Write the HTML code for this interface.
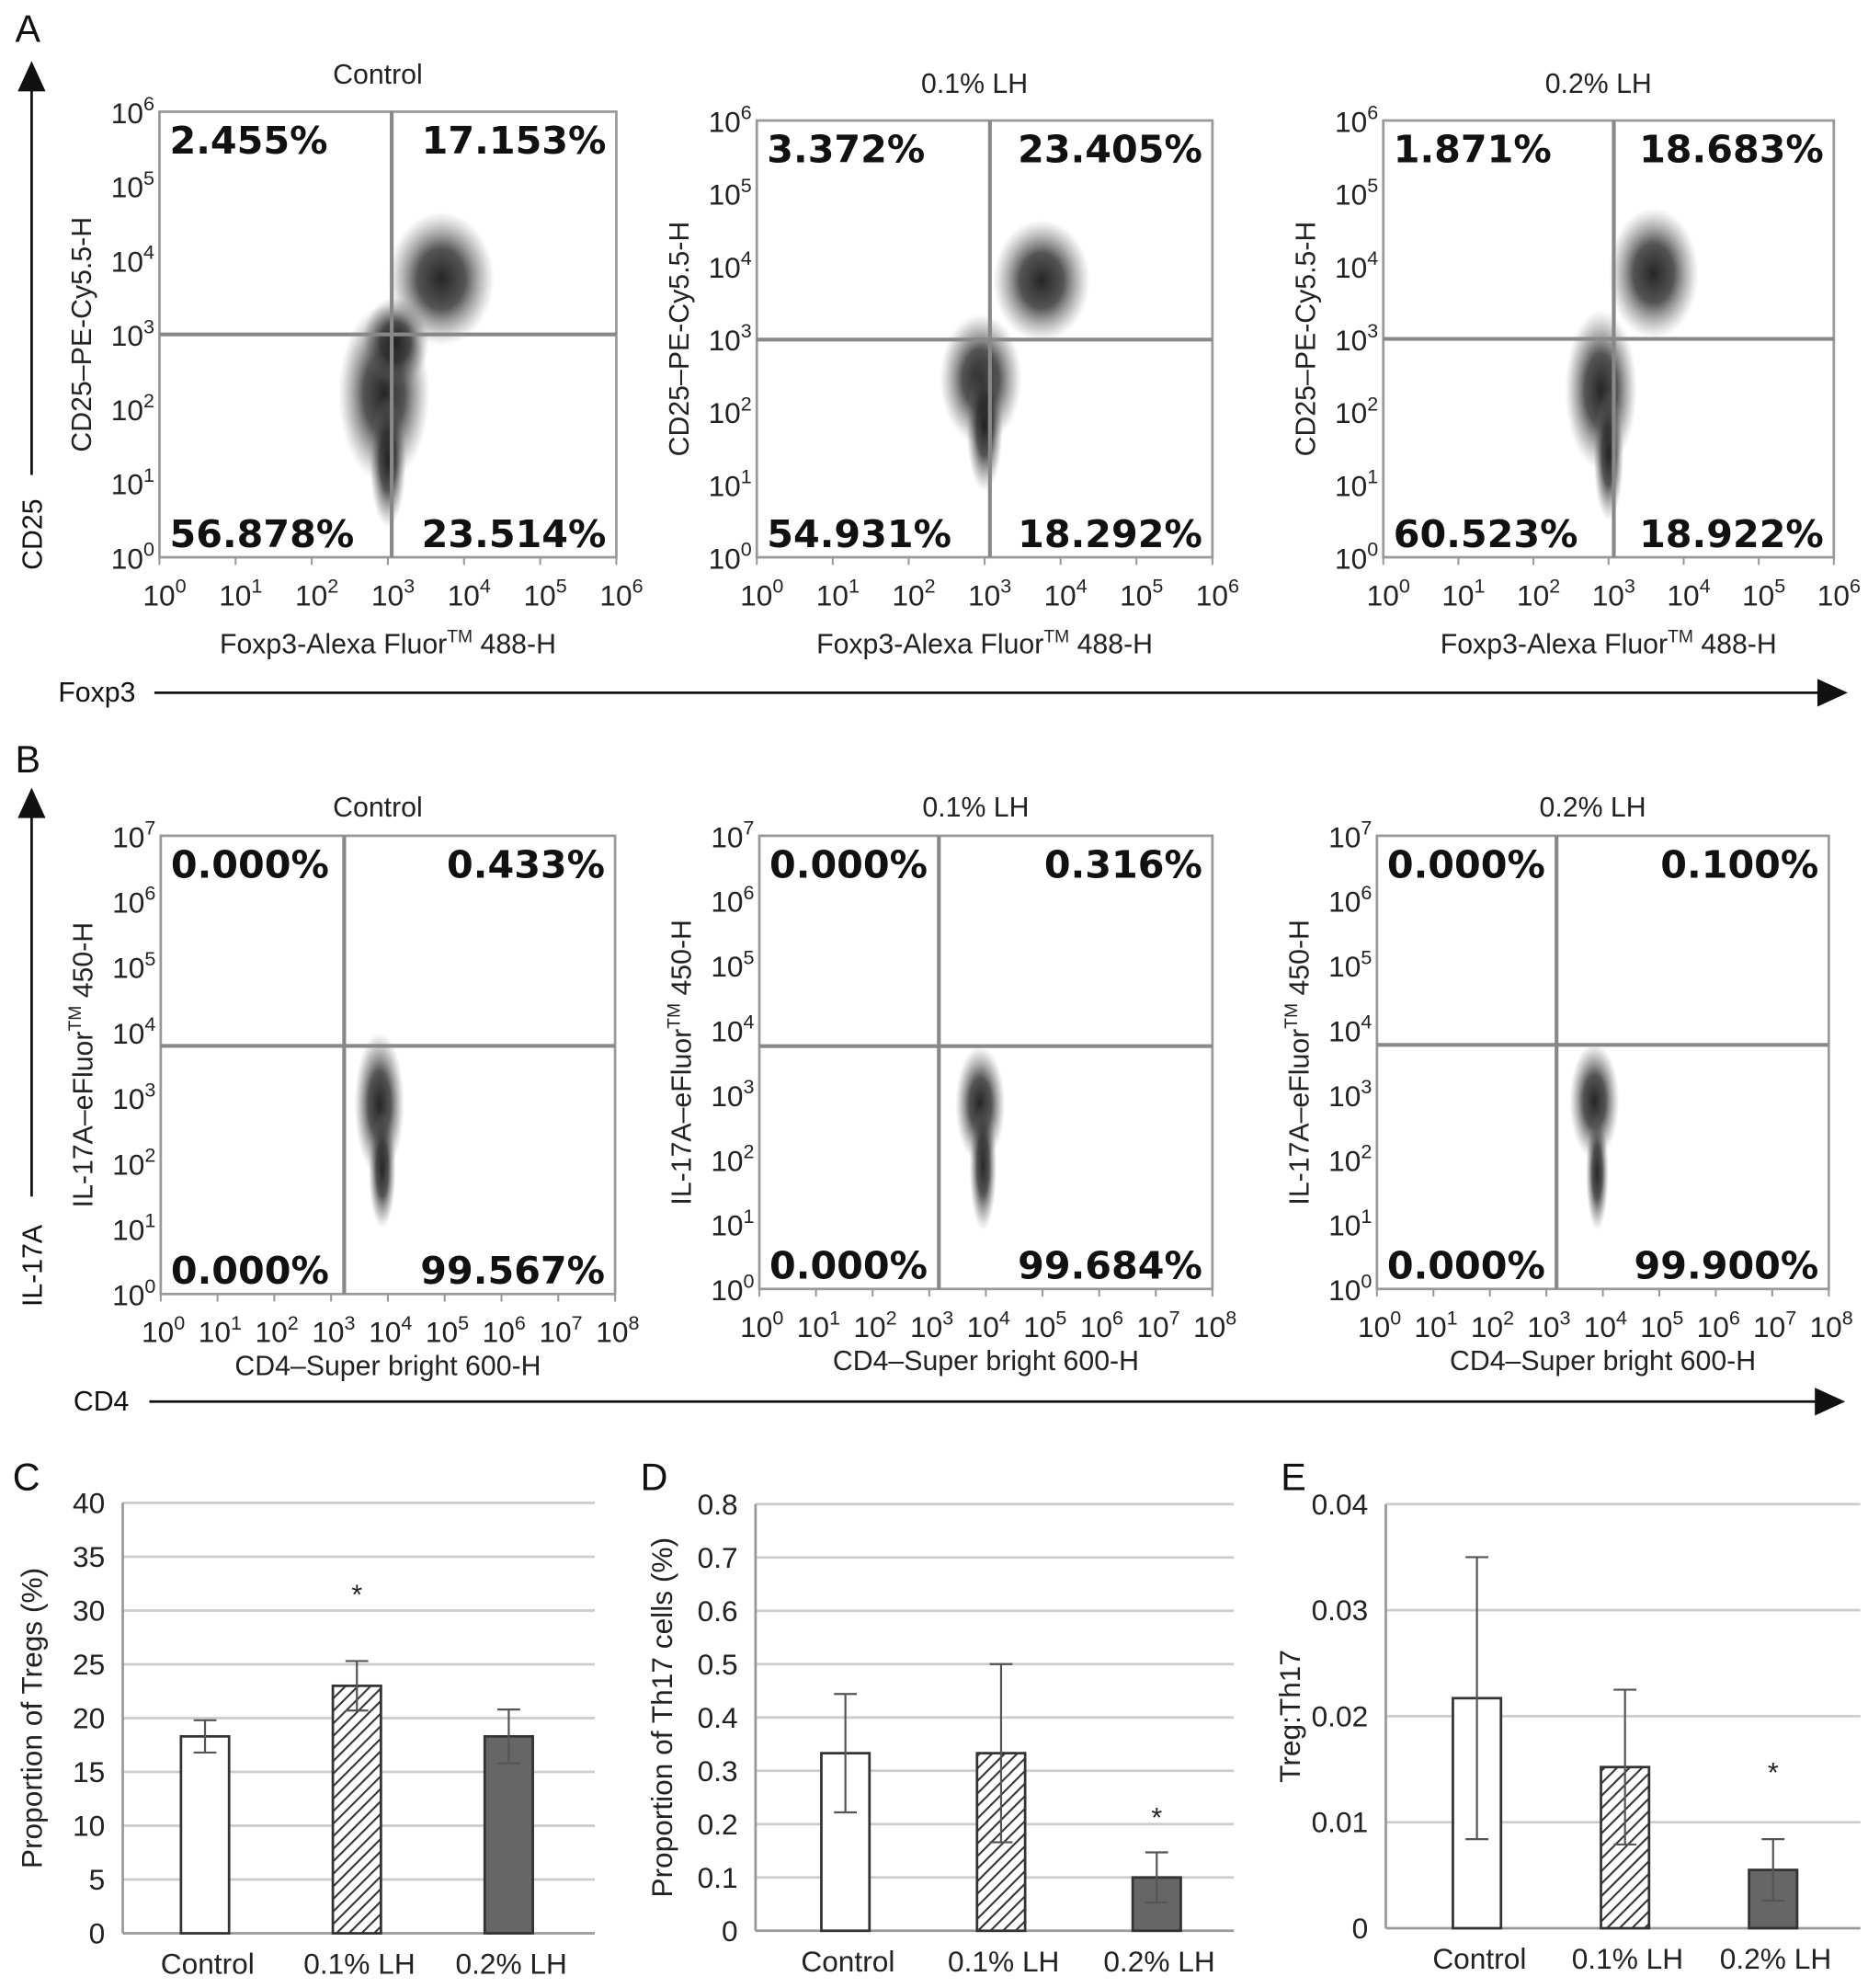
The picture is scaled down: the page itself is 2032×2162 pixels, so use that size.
<!DOCTYPE html>
<html><head><meta charset="utf-8"><style>
html,body{margin:0;padding:0;background:#fff;}
svg{display:block;font-family:"Liberation Sans",Arial,sans-serif;}
</style></head><body>
<svg id="fig" width="2032" height="2162" viewBox="0 0 1476 1570" xmlns="http://www.w3.org/2000/svg">
<defs>
<radialGradient id="cg"><stop offset="0" stop-color="#1a1a1a" stop-opacity="0.95"/><stop offset="0.45" stop-color="#2a2a2a" stop-opacity="0.8"/><stop offset="0.8" stop-color="#555" stop-opacity="0.3"/><stop offset="1" stop-color="#777" stop-opacity="0"/></radialGradient>
<pattern id="hatch" width="7" height="7" patternUnits="userSpaceOnUse" patternTransform="rotate(45)"><rect width="7" height="7" fill="#fff"/><line x1="0" y1="0" x2="0" y2="7" stroke="#333" stroke-width="3"/></pattern>
</defs>
<g id="root"></g>
</svg>
<script>
// ---------- Flow plot data ----------
const flowTitlesA = ["Control","0.1% LH","0.2% LH"];
const flowPctA = [["2.455%","17.153%","56.878%","23.514%"],["3.372%","23.405%","54.931%","18.292%"],["1.871%","18.683%","60.523%","18.922%"]];
const flowQuadA = [[3.05,3.0],[3.07,2.99],[3.07,3.0]];
const flowClustersA = [
  [[2.95,2.2,0.3,0.6],[3.7,3.75,0.35,0.45],[3.1,2.9,0.22,0.3],[3.0,1.3,0.12,0.45]],
  [[2.95,2.45,0.27,0.45],[3.75,3.8,0.32,0.42],[3.0,1.8,0.12,0.45]],
  [[2.9,2.3,0.24,0.55],[3.6,3.9,0.3,0.45],[3.0,1.4,0.1,0.45]]
];
const flowTitlesB = ["Control","0.1% LH","0.2% LH"];
const flowPctB = [["0.000%","0.433%","0.000%","99.567%"],["0.000%","0.316%","0.000%","99.684%"],["0.000%","0.100%","0.000%","99.900%"]];
const flowQuadB = [[3.23,3.79],[3.17,3.75],[3.18,3.77]];
const flowClustersB = [
  [[3.85,2.9,0.22,0.55],[3.9,1.9,0.12,0.45]],
  [[3.9,2.85,0.22,0.45],[3.95,1.9,0.12,0.5]],
  [[3.85,2.9,0.22,0.45],[3.9,1.8,0.1,0.45]]
];
// ---------- Bar chart data ----------
const barCats = ["Control","0.1% LH","0.2% LH"];
const tregVals = [18.3,23.0,18.3];
const tregErr = [1.5,2.3,2.5];
const tregTicks = [0,5,10,15,20,25,30,35,40];
const th17Vals = [0.333,0.333,0.1];
const th17Err = [0.111,0.167,0.047];
const th17Ticks = [0,0.1,0.2,0.3,0.4,0.5,0.6,0.7,0.8];
const ratioVals = [0.0217,0.0152,0.0055];
const ratioErr = [0.0133,0.0073,0.0029];
const ratioTicks = [0,0.01,0.02,0.03,0.04];
const sigStars = [[1],[2],[2]];

const NS="http://www.w3.org/2000/svg";
const root=document.getElementById('root');
function el(tag,attrs,parent,txt){const e=document.createElementNS(NS,tag);for(const k in attrs)e.setAttribute(k,attrs[k]);if(txt!==undefined)e.textContent=txt;(parent||root).appendChild(e);return e;}

function powLabel(g,x,y,exp,anchor,fs){
  const t=el('text',{x:x,y:y,'text-anchor':anchor,'font-size':fs,fill:'#222'},g);
  const a=document.createElementNS(NS,'tspan');a.textContent='10';t.appendChild(a);
  const b=document.createElementNS(NS,'tspan');b.setAttribute('dy',-10);b.setAttribute('font-size',fs*0.68);b.textContent=String(exp);t.appendChild(b);
  return t;
}

function flowPlot(o){
  const g=el('g',{});
  
  
  const sx=v=>o.x0+(v/o.xd)*(o.x1-o.x0);
  const sy=v=>o.y1-(v/o.yd)*(o.y1-o.y0);
  const t=el('text',{x:(o.x0+o.x1)/2-8,y:o.y0-(o.xd>6?15:22),'text-anchor':'middle','font-size':22,fill:'#222'},g,o.title);
  
  
  o.clusters.forEach(c=>{
    const e=el('ellipse',{cx:sx(c[0]),cy:sy(c[1]),rx:(c[2]/o.xd)*(o.x1-o.x0)*2,ry:(c[3]/o.yd)*(o.y1-o.y0)*2,fill:'url(#cg)'},g);
    
    
  });
  const box=el('rect',{x:o.x0,y:o.y0,width:o.x1-o.x0,height:o.y1-o.y0,fill:'none',stroke:'#999','stroke-width':2},g);
  
  
  const qv=el('line',{x1:sx(o.q[0]),x2:sx(o.q[0]),y1:o.y0,y2:o.y1,stroke:'#888','stroke-width':3},g);
  
  
  const qh=el('line',{x1:o.x0,x2:o.x1,y1:sy(o.q[1]),y2:sy(o.q[1]),stroke:'#888','stroke-width':3},g);
  
  
  for(let i=0;i<=o.yd;i++){const l=powLabel(g,o.x0-4,sy(i)+9,i,'end',23);
    
    }
  for(let i=0;i<=o.xd;i++){const l=powLabel(g,sx(i)+(o.xd>6?2:4),o.y1+38,i,'middle',23);
    
    
    el('line',{x1:sx(i),x2:sx(i),y1:o.y1,y2:o.y1+6,stroke:'#999','stroke-width':1.5},g);}
  const fs=30, pad=8;
  const pos=[[o.x0+pad,o.y0+fs+3,'start'],[o.x1-pad,o.y0+fs+3,'end'],[o.x0+pad,o.y1-8,'start'],[o.x1-pad,o.y1-8,'end']];
  o.pct.forEach((p,i)=>{const tt=el('text',{x:pos[i][0],y:pos[i][1],'text-anchor':pos[i][2],'font-size':fs,'font-weight':'bold','font-family':'"DejaVu Sans",sans-serif',fill:'#111'},g,p);
    
    });
  const xl=el('text',{x:(o.x0+o.x1)/2,y:o.y1+(o.xd>6?64:76),'text-anchor':'middle','font-size':22,fill:'#222'},g);
  
  
  o.xlab.forEach((s,i)=>{const ts=document.createElementNS(NS,'tspan');ts.textContent=s[0];if(s[1]){ts.setAttribute('dy',s[1]);}if(s[2])ts.setAttribute('font-size',s[2]);xl.appendChild(ts);});
  const cy=(o.y0+o.y1)/2;
  const yl=el('text',{x:0,y:0,transform:`translate(${o.x0-54},${cy}) rotate(-90)`,'text-anchor':'middle','font-size':22,fill:'#222'},g);
  
  
  o.ylab.forEach(s=>{const ts=document.createElementNS(NS,'tspan');ts.textContent=s[0];if(s[1])ts.setAttribute('dy',s[1]);if(s[2])ts.setAttribute('font-size',s[2]);yl.appendChild(ts);});
}

const boxesA=[[126,487,88,440],[598,958,95,440],[1093,1449,95,440]];
const boxesB=[[127,486,660,1022],[600,958,660,1018],[1088,1445,660,1018]];
const xlabA=[["Foxp3-Alexa Fluor"],["TM",-9,14],[" 488-H",9]];
const ylabA=[["CD25\u2013PE-Cy5.5-H"]];
const xlabB=[["CD4\u2013Super bright 600-H"]];
const ylabB=[["IL-17A\u2013eFluor"],["TM",-9,14],[" 450-H",9]];
for(let i=0;i<3;i++){
  const b=boxesA[i];
  flowPlot({name:'flow-plot-a-'+(i+1),x0:b[0],x1:b[1],y0:b[2],y1:b[3],xd:6,yd:6,q:flowQuadA[i],clusters:flowClustersA[i],pct:flowPctA[i],title:flowTitlesA[i],xlab:xlabA,ylab:ylabA});
  const c=boxesB[i];
  flowPlot({name:'flow-plot-b-'+(i+1),x0:c[0],x1:c[1],y0:c[2],y1:c[3],xd:8,yd:7,q:flowQuadB[i],clusters:flowClustersB[i],pct:flowPctB[i],title:flowTitlesB[i],xlab:xlabB,ylab:ylabB});
}

function txt(x,y,s,fs,name,anchor,rot){
  const a={x:x,y:y,'font-size':fs,fill:'#111','text-anchor':anchor||'start'};
  if(rot){a.transform=`rotate(-90 ${x} ${y})`;}
  const t=el('text',a,root,s);
  
  
  return t;
}
txt(12,33,'A',30,'panel-label-a');txt(12,610,'B',30,'panel-label-b');
txt(10,1177,'C',30,'panel-label-c');txt(506,1177,'D',30,'panel-label-d');txt(1012,1177,'E',30,'panel-label-e');
function arrowUp(x,yt,yb,name){const g=el('g',{});
  el('line',{x1:x,x2:x,y1:yt+20,y2:yb,stroke:'#111','stroke-width':2},g);
  el('polygon',{points:`${x-11},${yt+24} ${x+11},${yt+24} ${x},${yt}`,fill:'#111'},g);}
function arrowRight(xl,xr,y,name){const g=el('g',{});
  el('line',{x1:xl,x2:xr-20,y1:y,y2:y,stroke:'#111','stroke-width':2},g);
  el('polygon',{points:`${xr-24},${y-11} ${xr-24},${y+11} ${xr},${y}`,fill:'#111'},g);}
arrowUp(25,48,375,'cd25-arrow');txt(33,450,'CD25',22,'cd25-axis-label','start',true);
arrowRight(122,1460,547,'foxp3-arrow');txt(46,554,'Foxp3',22,'foxp3-axis-label');
arrowUp(25,622,945,'il17a-arrow');txt(33,1032,'IL-17A',22,'il17a-axis-label','start',true);
arrowRight(118,1458,1107,'cd4-arrow');txt(58,1114,'CD4',22,'cd4-axis-label');

const fills=['#fff','url(#hatch)','#666'];
function barChart(o){
  const g=el('g',{});
  
  
  const ymax=o.ticks[o.ticks.length-1];
  const sy=v=>o.yb-(v/ymax)*(o.yb-o.yt);
  const sx=i=>o.centers[0]+i*(o.centers[1]-o.centers[0]);
  o.ticks.forEach(t=>{
    if(t>0)el('line',{x1:o.xa,x2:o.xe,y1:sy(t),y2:sy(t),stroke:'#ccc','stroke-width':2},g);
    const l=el('text',{x:o.xa-14,y:sy(t)+8,'text-anchor':'end','font-size':23,fill:'#222'},g,o.fmt(t));
    
    
  });
  el('line',{x1:o.xa,x2:o.xa,y1:o.yt,y2:o.yb,stroke:'#999','stroke-width':2},g);
  el('line',{x1:o.xa,x2:o.xe,y1:o.yb,y2:o.yb,stroke:'#999','stroke-width':2},g);
  const bw=38;
  o.vals.forEach((v,i)=>{
    const b=el('rect',{x:sx(i)-bw/2,y:sy(v),width:bw,height:o.yb-sy(v),fill:fills[i],stroke:'#333','stroke-width':2},g);
    
    
    const e=o.err[i];
    const eg=el('g',{stroke:'#555','stroke-width':1.6},g);
    
    
    el('line',{x1:sx(i),x2:sx(i),y1:sy(v+e),y2:sy(v-e)},eg);
    el('line',{x1:sx(i)-9,x2:sx(i)+9,y1:sy(v+e),y2:sy(v+e)},eg);
    el('line',{x1:sx(i)-9,x2:sx(i)+9,y1:sy(v-e),y2:sy(v-e)},eg);
    const c=el('text',{x:sx(i)+2,y:o.yb+32,'text-anchor':'middle','font-size':23,fill:'#222'},g,barCats[i]);
    
    
  });
  o.stars.forEach(i=>{const s=el('text',{x:sx(i),y:sy(o.vals[i]+o.err[i])-o.starGap,'text-anchor':'middle','font-size':22,fill:'#222'},g,'*');
    
    });
  const cy=(o.yt+o.yb)/2;
  const yl=el('text',{x:0,y:0,transform:`translate(${o.ylx},${cy}) rotate(-90)`,'text-anchor':'middle','font-size':23,fill:'#222'},g,o.ylabel);
  
  
}
barChart({name:'bar-chart-tregs',xa:97,xe:470,yt:1187,yb:1527,centers:[162,282],vals:tregVals,err:tregErr,ticks:tregTicks,fmt:t=>String(t),stars:sigStars[0],starGap:45,ylx:33,ylabel:'Proportion of Tregs (%)'});
barChart({name:'bar-chart-th17',xa:597,xe:975,yt:1188,yb:1525,centers:[668,791],vals:th17Vals,err:th17Err,ticks:th17Ticks,fmt:t=>t===0?'0':t.toFixed(1),stars:sigStars[1],starGap:20,ylx:531,ylabel:'Proportion of Th17 cells (%)'});
barChart({name:'bar-chart-treg-th17-ratio',xa:1095,xe:1470,yt:1188,yb:1523,centers:[1167,1284],vals:ratioVals,err:ratioErr,ticks:ratioTicks,fmt:t=>t===0?'0':t.toFixed(2),stars:sigStars[2],starGap:45,ylx:1027,ylabel:'Treg:Th17'});
</script>
</body></html>
